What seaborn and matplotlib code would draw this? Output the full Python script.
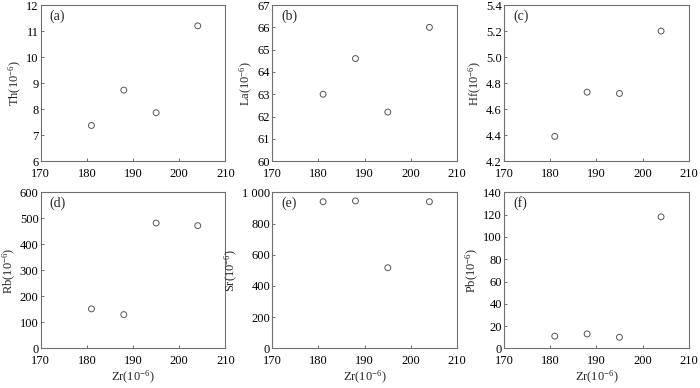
import pandas as pd
import matplotlib
matplotlib.use("Agg")
import matplotlib.pyplot as plt
import seaborn as sns

# 数据
zr = [181, 188, 195, 204]
th = [7.37, 8.73, 7.86, 11.2]
la = [63.0, 64.6, 62.2, 66.0]
hf = [4.39, 4.73, 4.72, 5.20]
rb = [152, 130, 482, 472]
sr = [940, 945, 517, 940]
pb = [11, 13, 10, 118]

panels = [
    ("(a)", "Th", th, (6, 12), [6, 7, 8, 9, 10, 11, 12], None),
    ("(b)", "La", la, (60, 67), [60, 61, 62, 63, 64, 65, 66, 67], None),
    ("(c)", "Hf", hf, (4.2, 5.4), [4.2, 4.4, 4.6, 4.8, 5.0, 5.2, 5.4], "{:.1f}"),
    ("(d)", "Rb", rb, (0, 600), [0, 100, 200, 300, 400, 500, 600], None),
    ("(e)", "Sr", sr, (0, 1000), [0, 200, 400, 600, 800, 1000], None),
    ("(f)", "Pb", pb, (0, 140), [0, 20, 40, 60, 80, 100, 120, 140], None),
]

sns.set_style("ticks")
plt.rcParams['font.family'] = ['Liberation Serif', 'DejaVu Serif']
plt.rcParams['mathtext.fontset'] = 'custom'
plt.rcParams['mathtext.rm'] = 'Liberation Serif'
plt.rcParams['mathtext.it'] = 'Liberation Serif:italic'
fs = 9

fig, axes = plt.subplots(2, 3, figsize=(7, 3.88), dpi=100)
fig.subplots_adjust(left=0.058, right=0.984, top=0.987, bottom=0.102, wspace=0.253, hspace=0.2)

edge = "#555555"
for ax, (tag, name, vals, ylim, yticks, fmt) in zip(axes.flat, panels):
    df = pd.DataFrame({"Zr": zr, name: vals})
    sns.scatterplot(data=df, x="Zr", y=name, ax=ax, marker="o", s=18,
                    facecolor="none", edgecolor=edge, linewidth=0.7)
    ax.set_xlim(170, 210)
    ax.set_xticks([170, 180, 190, 200, 210])
    ax.set_ylim(*ylim)
    ax.set_yticks(yticks)
    if fmt:
        ax.set_yticklabels([fmt.format(v) for v in yticks])
    elif name == "Sr":
        ax.set_yticklabels([("1 000" if v == 1000 else str(v)) for v in yticks])
    ax.set_ylabel(name + r"(10$^{-6}$)", fontsize=fs, labelpad=1.5)
    ax.set_xlabel("")
    ax.tick_params(direction="in", length=2.5, width=0.6, colors=edge,
                   labelcolor="black", labelsize=fs)
    ax.tick_params(axis="x", pad=5)
    ax.tick_params(axis="y", pad=1.5)
    for sp in ax.spines.values():
        sp.set_color("#707070")
        sp.set_linewidth(0.8)
    ax.text(0.05, 0.93, tag, transform=ax.transAxes, ha="left", va="center", fontsize=10)

for ax in axes[1]:
    ax.set_xlabel(r"Zr(10$^{-6}$)", fontsize=fs, labelpad=1)

fig.savefig("out.png", dpi=100)
